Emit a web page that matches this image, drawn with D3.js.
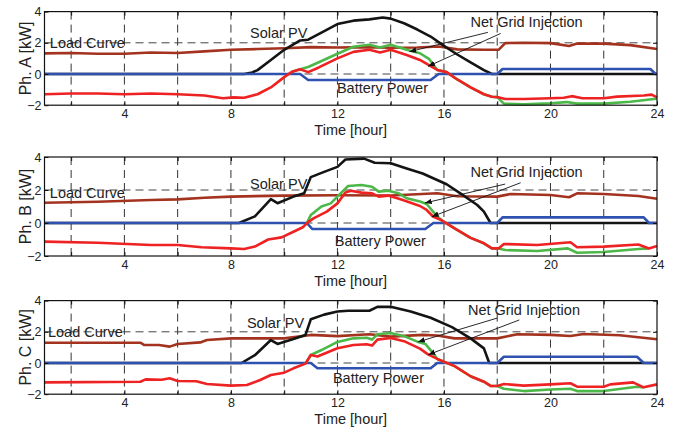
<!DOCTYPE html>
<html>
<head>
<meta charset="utf-8">
<script src="https://cdn.jsdelivr.net/npm/d3@7"></script>
<style>
  body { margin: 0; background: #fff; }
  text { font-family: "Liberation Sans", Arial, sans-serif; fill: #222; }
</style>
</head>
<body>
<script>
// hours on the x axis, kW on the y axis
const hourTicks = d3.range(2, 25, 2);      // grid every 2 h, labels every 4 h
const kwTicks = [-2, 0, 2, 4];
const kwGrid = [0, 2];

// Phase A  ([hour, kW] pairs)
const load_A = [[1,1.32],[2,1.35],[3,1.3],[4,1.3],[5,1.38],[6,1.35],[7,1.45],[8,1.55],[9,1.6],[10,1.65],[11,1.72],[12,1.7],[13,1.72],[14,1.68],[15,1.7],[15.8,1.76],[16.5,1.58],[17.5,1.55],[18.05,1.55],[18.3,1.98],[19,2.0],[20,1.98],[20.7,1.8],[21,1.95],[22,1.95],[23,1.85],[24,1.6]];
const pv_A = [[1,0],[8.5,0],[8.8,0.1],[9,0.25],[9.5,0.9],[10,1.55],[10.6,2.15],[10.9,2.2],[11.4,2.65],[12,3.2],[12.6,3.42],[13.2,3.5],[13.7,3.62],[14,3.55],[14.5,3.25],[15,2.85],[15.5,2.4],[16,1.8],[16.5,1.25],[17,0.75],[17.5,0.25],[17.8,0],[24,0]];
const batt_A = [[1,0],[10.6,0],[10.9,-0.38],[15.5,-0.38],[15.8,0],[18,0],[18.2,0.32],[23.75,0.32],[23.95,0],[24,0]];
const green_A = [[10.3,0.15],[10.6,0.3],[10.9,0.45],[11.3,0.75],[12,1.3],[12.6,1.75],[13.2,1.87],[13.6,1.7],[14,1.87],[14.6,1.55],[15.1,1.33],[15.45,0.95],[15.75,0.26],[16.1,0.12],[16.5,-0.35],[17,-0.86],[17.5,-1.3],[17.8,-1.46],[18,-1.48],[18.25,-1.9],[19,-1.95],[20,-1.88],[20.6,-1.8],[21,-1.9],[22,-1.9],[23,-1.78],[23.8,-1.62],[24,-1.58]];
const red_A = [[1,-1.3],[2,-1.25],[3,-1.25],[4,-1.3],[5,-1.25],[6,-1.3],[7,-1.38],[7.7,-1.55],[8.1,-1.5],[8.5,-1.52],[9,-1.3],[9.5,-0.86],[10,-0.2],[10.3,0.15],[10.6,0.3],[10.9,0.12],[11.3,0.42],[12,1.0],[12.6,1.42],[13.2,1.55],[13.6,1.38],[14,1.55],[14.6,1.22],[15.1,0.9],[15.45,0.55],[15.75,0.26],[16.1,0.12],[16.5,-0.35],[17,-0.86],[17.5,-1.3],[17.8,-1.46],[18,-1.48],[18.3,-1.6],[19,-1.6],[20,-1.55],[20.5,-1.52],[20.8,-1.42],[21.2,-1.55],[22,-1.55],[22.5,-1.45],[23.5,-1.38],[23.8,-1.32],[24,-1.5]];

// Phase B
const load_B = [[1,1.23],[3,1.29],[5,1.39],[6,1.43],[7,1.53],[8,1.6],[10,1.66],[12,1.68],[14,1.67],[15.75,1.8],[16.5,1.62],[18,1.6],[18.5,1.76],[20,1.7],[20.7,1.56],[21,1.8],[22,1.76],[23.3,1.64],[24,1.47]];
const pv_B = [[1,0],[8.3,0],[8.9,0.4],[9.5,1.45],[9.75,1.2],[10.35,1.6],[10.75,1.8],[11,2.78],[11.5,3.1],[12,3.4],[12.3,3.85],[13,3.9],[13.4,3.65],[14,3.62],[14.6,3.3],[15.2,3.0],[16.1,2.35],[16.7,1.7],[17.25,1.09],[17.5,0.69],[17.75,0],[24,0]];
const batt_B = [[1,0],[10.85,0],[11.05,-0.36],[15.3,-0.36],[15.6,0],[18,0],[18.2,0.34],[23.5,0.34],[23.7,0],[24,0]];
const green_B = [[10.85,0],[11,0.48],[11.4,1.0],[11.75,1.19],[12,1.6],[12.4,2.24],[12.9,2.3],[13.3,2.2],[13.55,1.9],[13.9,1.96],[14.3,1.8],[14.6,1.5],[15.1,1.3],[15.35,1.15],[15.7,0.48],[15.9,0.18],[16.4,-0.32],[17,-0.9],[17.5,-1.23],[17.8,-1.54],[18.05,-1.54],[18.3,-1.64],[19.5,-1.7],[20.65,-1.54],[21,-1.8],[22,-1.76],[23.3,-1.58],[23.7,-1.54]];
const red_B = [[1,-1.13],[3,-1.2],[5,-1.33],[6,-1.33],[6.9,-1.47],[8,-1.54],[8.5,-1.58],[8.9,-1.43],[9.4,-1.0],[9.9,-0.87],[10.35,-0.53],[10.7,-0.26],[10.9,0.05],[11.1,0.28],[11.6,0.69],[12,1.19],[12.3,1.85],[12.5,1.96],[12.9,1.84],[13.3,1.8],[13.55,1.6],[13.9,1.66],[14.4,1.43],[15.1,1.03],[15.35,0.79],[15.6,0.38],[15.9,0.18],[16.4,-0.32],[17,-0.9],[17.5,-1.23],[17.8,-1.54],[18.05,-1.54],[18.25,-1.27],[19.5,-1.33],[20.75,-1.17],[21,-1.47],[22,-1.43],[23.3,-1.3],[23.7,-1.54],[24,-1.4]];

// Phase C
const load_C = [[1,1.3],[4.6,1.3],[4.75,1.15],[5.3,1.15],[5.7,1.05],[6,1.22],[6.85,1.32],[7.1,1.47],[8,1.58],[10,1.58],[11,1.8],[12,1.72],[13.2,1.84],[14,1.69],[15.2,1.8],[15.75,1.76],[16.4,1.58],[18,1.58],[18.75,1.84],[20,1.8],[20.75,1.73],[21.25,1.86],[22.6,1.78],[24,1.52]];
const pv_C = [[1,0],[8.4,0],[8.9,0.5],[9.5,1.47],[9.75,1.22],[10.35,1.54],[10.8,1.8],[11,2.8],[11.5,3.1],[12,3.3],[12.4,3.35],[13.2,3.35],[13.5,3.6],[14,3.6],[14.75,3.3],[15.5,2.9],[16.3,2.3],[17,1.58],[17.5,0.94],[17.7,0],[24,0]];
const batt_C = [[1,0],[11,0],[11.25,-0.34],[15.5,-0.34],[15.75,0],[18,0],[18.25,0.4],[23.25,0.4],[23.5,0],[24,0]];
const green_C = [[10.8,-0.04],[11,0.51],[11.4,0.83],[12,1.35],[12.6,1.58],[13.1,1.62],[13.3,1.5],[13.5,1.84],[14,1.92],[14.5,1.72],[15,1.37],[15.3,1.22],[15.6,0.62],[15.75,0.26],[16.4,-0.2],[17,-0.85],[17.5,-1.2],[17.75,-1.47],[18,-1.47],[18.25,-1.65],[19,-1.8],[20,-1.7],[20.75,-1.65],[21,-1.8],[22,-1.8],[23.25,-1.52],[23.5,-1.56]];
const red_C = [[1,-1.24],[4.6,-1.2],[4.8,-1.05],[5.4,-1.07],[5.7,-0.98],[6,-1.15],[6.7,-1.17],[7.1,-1.35],[8,-1.45],[8.6,-1.41],[9.1,-1.09],[9.5,-0.77],[10,-0.62],[10.35,-0.34],[10.8,-0.04],[11,0.51],[11.25,0.42],[12,0.95],[12.6,1.15],[13.1,1.2],[13.3,1.12],[13.5,1.5],[14,1.6],[14.5,1.4],[15.1,0.92],[15.4,0.55],[15.75,0.26],[16.4,-0.2],[17,-0.85],[17.5,-1.2],[17.75,-1.47],[18,-1.47],[18.25,-1.35],[19,-1.45],[20,-1.37],[20.75,-1.3],[21,-1.52],[22,-1.52],[22.25,-1.37],[23.1,-1.24],[23.5,-1.56],[24,-1.37]];

const W = 678, H = 428;
const svg = d3.select('body').append('svg').attr('width', W).attr('height', H);

svg.append('defs').append('marker')
    .attr('id', 'head')
    .attr('viewBox', '0 0 10 10')
    .attr('refX', 10).attr('refY', 5)
    .attr('markerWidth', 7).attr('markerHeight', 7)
    .attr('markerUnits', 'userSpaceOnUse')
    .attr('orient', 'auto')
  .append('path')
    .attr('d', 'M0,1 L10,5 L0,9 Z')
    .attr('fill', '#111');

const x = d3.scaleLinear().domain([1, 24]).range([44.5, 657]);

// layout per panel; notes are in data units (hour, kW)
const panels = [
  {name: 'A', top: 11.6, bottom: 105.2, series: [load_A, pv_A, batt_A, green_A, red_A],
   load: [1.2, 2.0], solar: [8.72, 2.63], grid: [17.0, 3.33], batt: [11.98, -0.9],
   arrows: [[17.65, 2.67, 14.7, 1.43], [18.13, 2.6, 15.4, 0.49]]},
  {name: 'B', top: 157, bottom: 256, series: [load_B, pv_B, batt_B, green_B, red_B],
   load: [1.2, 1.82], solar: [8.72, 2.36], grid: [17.0, 3.09], batt: [11.9, -1.07],
   arrows: [[18.3, 2.36, 15.28, 1.21], [18.88, 2.44, 15.54, 0.38]]},
  {name: 'C', top: 300.6, bottom: 394.2, series: [load_C, pv_C, batt_C, green_C, red_C],
   load: [1.13, 2.0], solar: [8.6, 2.56], grid: [16.9, 3.4], batt: [11.83, -0.96],
   arrows: [[18.0, 2.88, 15.02, 1.35], [18.83, 2.76, 15.41, 0.53]]}
];

const colors = ['#a3331f', '#141414', '#2f52b0', '#4cb848', '#ee2222'];

panels.forEach(p => {
  const y = d3.scaleLinear().domain([-2, 4]).range([p.bottom, p.top]);
  const g = svg.append('g');

  // dashed grid
  g.selectAll('.vg').data(hourTicks.filter(h => h < 24)).enter().append('line')
      .attr('x1', d => x(d)).attr('x2', d => x(d))
      .attr('y1', p.top).attr('y2', p.bottom)
      .attr('stroke', '#333').attr('stroke-dasharray', '8,5');
  g.selectAll('.hg').data(kwGrid).enter().append('line')
      .attr('x1', x(1)).attr('x2', x(24))
      .attr('y1', d => y(d)).attr('y2', d => y(d))
      .attr('stroke', '#444').attr('stroke-dasharray', '8,5');

  // curves
  const line = d3.line().x(d => x(d[0])).y(d => y(d[1]));
  g.selectAll('.curve').data(p.series).enter().append('path')
      .attr('d', line)
      .attr('fill', 'none')
      .attr('stroke', (d, i) => colors[i])
      .attr('stroke-width', 2.6)
      .attr('stroke-linejoin', 'round');

  // axes (ticks pointing inwards, like matlab)
  g.append('g')
      .attr('transform', 'translate(0,' + p.bottom + ')')
      .call(d3.axisBottom(x).tickValues(hourTicks)
            .tickFormat(d => d % 4 === 0 ? d : '')
            .tickSizeInner(-4).tickSizeOuter(0).tickPadding(4));
  g.append('g')
      .attr('transform', 'translate(0,' + p.top + ')')
      .call(d3.axisTop(x).tickValues(hourTicks).tickFormat('')
            .tickSizeInner(-4).tickSizeOuter(0));
  g.append('g')
      .attr('transform', 'translate(' + x(1) + ',0)')
      .call(d3.axisLeft(y).tickValues(kwTicks).tickFormat(d3.format('d'))
            .tickSizeInner(-4).tickSizeOuter(0).tickPadding(3));
  g.append('g')
      .attr('transform', 'translate(' + x(24) + ',0)')
      .call(d3.axisRight(y).tickValues(kwTicks).tickFormat('')
            .tickSizeInner(-4).tickSizeOuter(0));
  g.selectAll('.domain').remove();
  g.selectAll('.tick line').attr('stroke', '#111');
  g.selectAll('.tick text')
      .attr('font-family', '"Liberation Sans", Arial, sans-serif')
      .attr('font-size', 12.5).attr('fill', '#222');

  // frame
  g.append('rect')
      .attr('x', x(1)).attr('y', p.top)
      .attr('width', x(24) - x(1)).attr('height', p.bottom - p.top)
      .attr('fill', 'none').attr('stroke', '#111').attr('stroke-width', 1.2);

  // axis titles
  g.append('text')
      .attr('x', (x(1) + x(24)) / 2).attr('y', p.bottom + 25).attr('dy', '0.35em')
      .attr('text-anchor', 'middle').attr('font-size', 14.5)
      .text('Time [hour]');
  g.append('text')
      .attr('transform', 'translate(25,' + (p.top + p.bottom) / 2 + ') rotate(-90)')
      .attr('dy', '0.35em')
      .attr('text-anchor', 'middle').attr('font-size', 16)
      .text('Ph. ' + p.name + ' [kW]');

  // notes
  const note = (pos, label) => g.append('text')
      .attr('x', x(pos[0])).attr('y', y(pos[1])).attr('dy', '0.35em')
      .attr('font-size', 14.5).text(label);
  note(p.load, 'Load Curve');
  note(p.solar, 'Solar PV');
  note(p.grid, 'Net Grid Injection');
  note(p.batt, 'Battery Power');

  g.selectAll('.arrow').data(p.arrows).enter().append('line')
      .attr('x1', d => x(d[0])).attr('y1', d => y(d[1]))
      .attr('x2', d => x(d[2])).attr('y2', d => y(d[3]))
      .attr('stroke', '#111').attr('stroke-width', 0.9)
      .attr('marker-end', 'url(#head)');
});
</script>
</body>
</html>
